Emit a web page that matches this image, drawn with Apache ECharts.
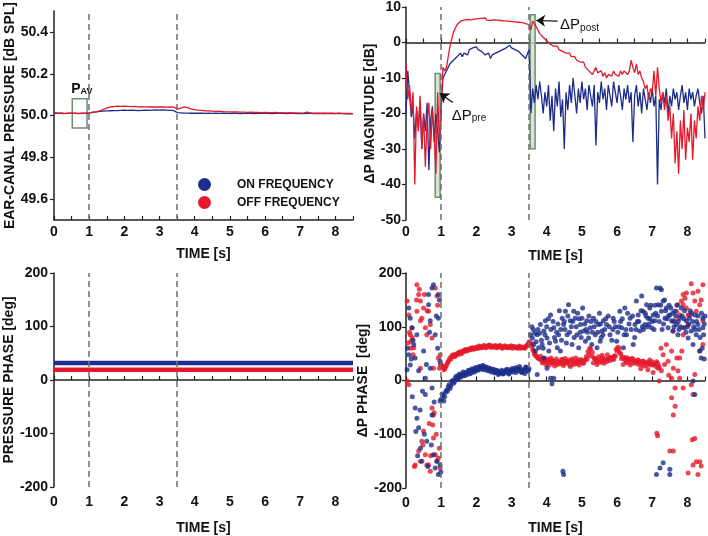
<!DOCTYPE html>
<html><head><meta charset="utf-8">
<script src="https://cdn.jsdelivr.net/npm/echarts@6/dist/echarts.min.js"></script>
<style>html,body{margin:0;padding:0;background:#fff}#c{width:708px;height:536px}</style>
</head><body><div id="c"></div>
<script>
// ---------- DATA ----------
const seriesNames = ['ON FREQUENCY', 'OFF FREQUENCY'];
const stimulusEdges = [1, 3.5];          // dashed lines [s]
const xTickLabels = [0,1,2,3,4,5,6,7,8];
const pressureTicks = [49.6, 49.8, 50.0, 50.2, 50.4];

// Ear-canal pressure [dB SPL], sampled every 0.1 s from 0 to 8.5 s
const PRESS_DT = 0.1;
const pressureOn = [
 50.012,50.010,50.011,50.009,50.010,50.011,50.010,50.009,50.010,50.011,
 50.012,50.015,50.018,50.020,50.021,50.022,50.023,50.024,50.024,50.025,
 50.026,50.025,50.026,50.025,50.024,50.025,50.026,50.025,50.026,50.027,
 50.026,50.027,50.026,50.025,50.024,50.014,50.013,50.012,50.012,50.011,
 50.011,50.012,50.011,50.010,50.011,50.010,50.011,50.010,50.011,50.010,
 50.010,50.011,50.010,50.009,50.010,50.011,50.010,50.009,50.010,50.010,
 50.011,50.010,50.009,50.010,50.011,50.010,50.009,50.010,50.010,50.009,
 50.010,50.009,50.010,50.011,50.009,50.010,50.009,50.010,50.009,50.010,
 50.009,50.010,50.009,50.008,50.009,50.008];
const pressureOff = [
 50.015,50.012,50.011,50.010,50.011,50.010,50.011,50.010,50.011,50.010,
 50.012,50.016,50.018,50.022,50.030,50.036,50.041,50.043,50.045,50.044,
 50.045,50.044,50.043,50.044,50.042,50.043,50.042,50.041,50.042,50.041,
 50.042,50.041,50.040,50.041,50.040,50.032,50.035,50.042,50.038,50.032,
 50.028,50.026,50.025,50.023,50.022,50.021,50.020,50.020,50.019,50.018,
 50.018,50.017,50.017,50.016,50.016,50.015,50.016,50.015,50.015,50.014,
 50.015,50.014,50.014,50.015,50.013,50.014,50.013,50.014,50.013,50.013,
 50.012,50.013,50.016,50.012,50.012,50.011,50.012,50.011,50.011,50.011,
 50.010,50.011,50.010,50.010,50.010,50.009];

// ΔP magnitude [dB], sampled every 0.05 s from 0 to 8.5 s
const MAG_DT = 0.05;
const magnitudeOn = [
 -20,-8,-14,-21,-18,-27,-19,-24,-17,-30,-20,-25,-17,-36,-22,-18,-28,-20,-25,-31,
 -18,-10,-9,-8,-7,-6,-6.5,-5,-5.5,-4,-4.5,-3,-4,-3,-2.5,-3.5,-2,-2.5,-1.5,-2,
 -1.2,-2,-1.5,-2.5,-2,-3.5,-4,-3,-4.5,-3.5,-4,-3,-3.5,-2.5,-3,-2,-2.5,-1.5,-2,-0.8,
 -1.5,-1,-2,-1.5,-2.5,-2,-3.5,-3,-4.5,-5,-2,-20,-13,-17,-12,-16,-11,-15,-20,-14,
 -18,-12,-22,-15,-25,-13,-18,-11,-21,-16,-30,-14,-19,-12,-17,-10,-15,-20,-13,-17,
 -11,-16,-13,-19,-12,-15,-18,-12,-29,-14,-17,-11,-16,-13,-19,-12,-15,-18,-11,-14,
 -17,-12,-15,-19,-13,-16,-12,-17,-14,-28,-15,-12,-18,-14,-20,-13,-16,-19,-14,-17,
 -13,-18,-15,-40,-16,-19,-14,-17,-13,-20,-15,-18,-13,-16,-14,-19,-15,-12,-17,-14,
 -19,-13,-16,-14,-18,-15,-13,-17,-20,-15,-27];
const magnitudeOff = [
 -6,-16,-12,-20,-14,-40,-18,-25,-15,-30,-20,-35,-22,-17,-30,-19,-26,-37,-14,-28,
 -20,-7,-8,-7,-4,-1,1,3,4,5,5.5,6,6.5,6.3,6.8,6.5,6.7,6.4,6.8,6.6,
 6.5,6.7,6.4,6.8,6.5,6.9,6.3,6.6,6.2,6.5,6.4,6.1,6.3,6.0,6.2,5.9,6.1,5.8,6.0,5.7,
 5.9,5.6,5.8,5.5,5.7,5.4,5.6,5.8,5.3,5.5,5,3.5,6,5.5,4.5,4,2.5,3,1.5,1,
 0.5,0,-0.5,0,-1,-1.5,-1,-2,-1.5,-2.5,-2,-3,-3.5,-3,-4,-4.5,-4,-5,-4.5,-5.5,
 -6,-5.5,-7,-6.5,-8,-7.5,-9,-8,-7,-8.5,-9,-8,-9.5,-8.5,-10,-9,-8.5,-9.5,-8,-9,
 -8.5,-9.5,-8,-9,-8,-7.5,-9,-8,-5,-7,-8.5,-6,-9,-8,-10,-11,-13,-12,-16,-13,
 -14,-8,-15,-7,-13,-17,-14,-19,-15,-22,-18,-27,-20,-34,-25,-37,-22,-30,-19,-33,
 -24,-28,-20,-33,-22,-27,-18,-22,-15,-19,-14];

// Pressure phase [deg] (constant)
const pressurePhaseT = [0, 8.5];
const pressurePhaseOn = [32, 32];
const pressurePhaseOff = [19, 19];

// ΔP phase [deg]
// scattered points before stimulus onset: [t, deg]
const phaseOnPre = [
 [0.08,135],[0.12,116],[0.17,98],[0.08,48],[0.12,29],[0.22,67],[0.26,42],[0.31,85],[0.36,18],
 [0.26,-51],[0.31,-70],[0.36,-88],[0.41,-126],[0.45,-150],[0.5,55],[0.55,4],[0.55,-26],
 [0.59,-113],[0.64,141],[0.64,160],[0.69,111],[0.74,172],[0.69,23],[0.74,-14],[0.74,-64],
 [0.78,178],[0.83,85],[0.78,-138],[0.83,-163],[0.92,160],[0.92,116],[0.92,-175],[0.97,-157],
 [0.97,-38],[0.97,36],[0.04,60],[0.15,40],[0.2,75],[0.28,-95],[0.33,-140],[0.4,-55],
 [0.47,-20],[0.52,-100],[0.58,30],[0.62,-160],[0.67,90],[0.72,-120],[0.8,-40],[0.86,120],
 [0.88,-150],[0.9,60],[0.95,150],[0.99,-170],[0.03,20],[0.18,-30]];
const phaseOffPre = [
 [0.03,148],[0.08,122],[0.03,-1],[0.08,-8],[0.12,85],[0.17,98],[0.14,73],[0.22,61],[0.2,48],
 [0.26,-157],[0.31,178],[0.36,160],[0.31,129],[0.41,148],[0.45,116],[0.41,111],[0.5,135],
 [0.36,-131],[0.41,-150],[0.45,-113],[0.5,-94],[0.55,-138],[0.59,-157],[0.55,98],[0.59,85],
 [0.64,129],[0.69,104],[0.74,79],[0.64,-157],[0.69,-169],[0.74,-51],[0.78,-64],[0.76,-83],
 [0.78,-107],[0.83,-138],[0.88,-150],[0.83,172],[0.88,157],[0.92,-144],[0.97,-163],
 [0.95,-126],[0.92,42],[0.97,48],[0.95,23],[0.78,23],[0.41,23],[0.06,70],[0.1,90],[0.14,60],
 [0.18,80],[0.24,-160],[0.3,150],[0.38,170],[0.48,-120],[0.52,160],[0.6,130],[0.66,-80],
 [0.7,-140],[0.8,-60],[0.86,-100],[0.9,140],[0.98,30]];

// banded phase during stimulus, every 0.05 s (A from 1.000 s, B from 1.025 s)
const BAND_T0 = 1.0, BAND_DT = 0.05;
const phaseOnBandA = [
 -35,-28,-30,-18,-12,-15,-2,-5,4,2, 10,6,12,9,15,11,18,14,20,16,
 22,19,25,21,27,22,24,19,22,17, 20,15,18,13,17,12,16,20,14,18,
 22,16,20,24,18,22,15,20,25,17, 22];
const phaseOnBandB = [
 -25,-38,-22,-20,-8,-10,0,-3,8,5, 12,8,16,10,14,19,13,22,18,24,
 20,26,23,28,20,25,18,23,16,21, 14,19,11,15,19,13,17,21,12,16,
 19,23,15,21,26,16,19,13,24,18];
const phaseOffBandA = [
 30,25,22,28,35,42,45,48,46,50, 52,51,55,54,57,56,59,58,60,59,
 62,60,63,61,64,62,63,65,62,64, 63,65,62,64,63,61,64,62,63,61,
 64,62,63,61,63,60,62,61,63,66, 72];
const phaseOffBandB = [
 27,20,25,32,38,40,47,44,49,48, 53,50,54,57,55,58,57,61,58,61,
 60,64,61,63,65,61,64,66,63,62, 64,61,63,65,60,63,64,61,62,64,
 60,63,62,60,64,61,62,60,64,68];

// OFF-frequency phase after stimulus offset, every 0.05 s (A from 3.55 s, B from 3.575 s)
const POST_T0 = 3.55, POST_DT = 0.05;
const phaseOffPostA = [
 70,58,50,46,42,40,38,36,39,34, 37,33,38,32,36,30,35,33,38,31,
 36,34,29,37,33,35,31,38,34,36, 32,38,40,48,58,52,42,38,35,40,
 36,42,38,35,40,37,43,39,45,55, 60,50,44,40,36,42,38,34,40,36,
 32,38,35,30,36,33,28,34,31,35, 30,26,32,24];
const phaseOffPostB = [
 64,55,47,44,41,45,33,41,30,40, 29,42,35,27,40,34,31,39,28,41,
 33,38,26,40,30,42,35,29,39,33, 37,44,54,60,45,33,41,30,44,34,
 47,32,39,48,41,43,40,46,58,62, 52,41,30,43,33,39,29,41,32,36,
 37,30,22,36,27,33,20,38,29,15, 31,35,28];
// OFF-frequency scattered points at the end: [t, deg]
const phaseOffLate = [
 [7.13,-98],[7.15,-103],[7.5,-131],[7.6,-131],[7.6,-64],[7.65,-48],[7.55,-32],[7.65,-14],
 [7.55,4],[7.6,23],[7.7,42],[7.84,55],[7.88,85],[7.88,160],[7.93,153],[7.97,135],[8.02,122],
 [7.93,98],[8.11,180],[8.16,163],[8.21,148],[8.25,129],[8.3,166],[8.35,141],[8.44,178],
 [8.39,150],[8.44,111],[8.14,-110],[8.21,-108],[8.16,-157],[8.25,-151],[8.35,-151],
 [8.39,-159],[8.3,-175],[8.02,-172],[8.16,-26],[8.21,11],[8.11,-8],[8.35,55],[8.44,67],
 [7.78,42],[7.73,18],[7.78,4],[7.88,-14],[7.2,-1],[7.26,18],[7.17,23],[7.31,48],[7.45,36],
 [7.4,67],[7.55,55],[7.59,92],[7.64,111],[7.69,129],[7.73,141],[7.88,141],[7.83,148],
 [7.78,122],[7.97,163],[8.02,104],[8.06,122],[7.25,60],[7.35,30],[7.47,10]];
// ON-frequency scattered points after stimulus offset: [t, deg]
const phaseOnPost = [
 [3.54,85],[3.59,79],[3.63,67],[3.68,55],[3.73,85],[3.77,61],[3.82,104],[3.87,67],[3.92,92],
 [3.92,42],[3.96,111],[4.01,79],[4.06,55],[3.73,11],[4.01,23],[4.11,4],[4.15,-6],[4.2,4],
 [4.11,122],[4.2,98],[4.25,73],[4.3,61],[4.34,85],[4.39,55],[4.44,116],[4.48,104],[4.53,129],
 [4.48,-175],[4.46,-169],[4.58,85],[4.62,141],[4.67,111],[4.72,67],[4.77,129],[4.81,116],
 [4.86,85],[4.91,61],[4.96,104],[5.0,116],[5.05,92],[5.1,73],[5.14,111],[5.19,79],[5.24,98],
 [5.28,67],[5.33,116],[5.38,85],[5.43,61],[5.47,104],[5.52,73],[5.57,92],[5.61,111],
 [5.7,104],[5.8,85],[5.89,116],[5.99,73],[6.08,129],[6.13,98],[6.18,61],[6.22,135],[6.27,85],
 [6.37,116],[6.46,67],[6.51,104],[6.55,148],[6.6,122],[6.65,92],[6.7,157],[6.74,129],
 [6.79,104],[6.84,141],[6.88,116],[6.93,135],[6.98,98],[7.03,122],[7.07,111],[7.12,172],
 [7.22,172],[7.26,169],[7.17,141],[7.26,129],[7.31,148],[7.36,116],[7.4,135],[7.45,98],
 [7.5,122],[7.55,111],[7.59,92],[7.64,129],[7.69,104],[7.73,85],[7.78,116],[7.83,135],
 [7.88,98],[7.97,111],[8.02,79],[8.06,116],[8.11,92],[8.16,67],[8.21,122],[8.25,85],[8.3,104],
 [8.35,55],[8.39,42],[8.44,98],[8.44,116],[8.16,-1],[8.21,-26],[7.12,-175],[7.22,-163],
 [7.31,-153],[7.5,-165],[7.5,-175],
 [3.62,95],[3.7,72],[3.8,88],[3.9,60],[4.0,100],[4.08,70],[4.18,110],[4.28,90],[4.36,130],
 [4.42,75],[4.52,95],[4.6,120],[4.7,100],[4.78,80],[4.88,125],[4.95,90],[5.02,135],[5.12,95],
 [5.2,120],[5.3,90],[5.4,110],[5.5,125],[5.55,80],[5.65,95],[5.75,120],[5.85,75],[5.95,100],
 [6.02,90],[6.1,110],[6.2,85],[6.3,125],[6.4,95],[6.5,80],[6.58,110],[6.68,130],[6.75,95],
 [6.82,120],[6.9,105],[6.96,140],[7.05,95],[7.1,125],[7.2,110],[7.28,95],[7.35,150],
 [7.42,115],[7.48,140],[7.58,125],[7.62,100],[7.7,140],[7.76,95],[7.85,120],[7.92,130],
 [8.0,100],[8.08,130],[8.15,110],[8.22,95],[8.3,120],[8.36,80],[8.42,60],[8.48,105],
 [3.58,100],[3.66,88],[3.75,95],[3.85,75],[3.95,85],[4.05,115],[4.12,95],[4.22,80],[4.32,105],
 [4.4,95],[4.5,110],[4.56,70],[4.65,90],[4.74,110],[4.84,100],[4.92,115],[4.98,80],[5.08,105],
 [5.16,90],[5.26,110],[5.35,100],[5.45,90],[5.53,105],[5.6,85],[5.68,115],[5.78,100],[5.88,95],
 [5.92,110],[6.05,100],[6.15,115],[6.25,95],[6.34,105],[6.44,120],[6.54,95],[6.62,110],
 [6.72,100],[6.8,125],[6.86,100],[6.94,115],[7.0,110],[7.08,140],[7.15,120],[7.24,140],
 [7.32,105],[7.38,130],[7.46,120],[7.53,135],[7.6,110],[7.67,120],[7.74,110],[7.8,100],
 [7.9,115],[7.96,90],[8.04,105],[8.12,125],[8.18,100],[8.26,110],[8.33,95],[8.4,125],
 [8.46,85],[8.5,120],[8.48,40]];

// ---------- CHART ----------
const BLUE = '#1d2d8a', RED = '#e5192b';
const FONT = "'Liberation Sans', Arial, sans-serif";
const series = (arr, t0, dt) => arr.map((v, i) => [+(t0 + i * dt).toFixed(4), v]);

const grids = [
  {left: 54, top: 5, width: 299, height: 215},
  {left: 406, top: 5, width: 301, height: 215},
  {left: 54, top: 273, width: 299, height: 215},
  {left: 406, top: 273, width: 301, height: 215}
];
const axisLine = {show: true, lineStyle: {color: '#222', width: 1.5}};
const xNameGaps = [27, 29, 34, 33];
const xAxes = grids.map((g, i) => ({
  type: 'value', gridIndex: i, min: 0, max: 8.5, interval: 0.5,
  name: 'TIME [s]', nameLocation: 'middle', nameGap: xNameGaps[i],
  nameTextStyle: {fontFamily: FONT, fontWeight: 'bold', fontSize: 14, color: '#111'},
  axisLine, splitLine: {show: false},
  axisTick: {show: true, inside: true, length: 4, lineStyle: {color: '#222', width: 1.2}},
  axisLabel: {fontFamily: FONT, fontWeight: 'bold', fontSize: 14, color: '#111',
    margin: i < 2 ? 5 : 8,
    formatter: v => xTickLabels.includes(v) ? String(v) : ''}
}));
const yCommon = (i, extra) => Object.assign({
  type: 'value', gridIndex: i, nameLocation: 'middle',
  nameTextStyle: {fontFamily: FONT, fontWeight: 'bold', fontSize: 14, color: '#111'},
  axisLine, splitLine: {show: false},
  axisTick: {show: true, inside: false, length: 4, lineStyle: {color: '#222', width: 1.2}},
  axisLabel: {fontFamily: FONT, fontWeight: 'bold', fontSize: 14, color: '#111', margin: 6}
}, extra);
const yAxes = [
  yCommon(0, {min: 49.5, max: 50.5, name: 'EAR-CANAL PRESSURE [dB SPL]', nameGap: 37,
    axisTick: {show: true, length: 4, customValues: pressureTicks, lineStyle: {color: '#222', width: 1.2}},
    axisLabel: {fontFamily: FONT, fontWeight: 'bold', fontSize: 14, color: '#111', margin: 6,
      customValues: pressureTicks, formatter: v => v.toFixed(1)}}),
  yCommon(1, {min: -50, max: 10, interval: 10, name: 'ΔP MAGNITUDE [dB]', nameGap: 28}),
  yCommon(2, {min: -200, max: 200, interval: 100, name: 'PRESSURE PHASE [deg]', nameGap: 37}),
  yCommon(3, {min: -200, max: 200, interval: 100, name: 'ΔP PHASE  [deg]', nameGap: 30})
];
yAxes[1].axisLabel.margin = 5;
yAxes[3].axisLabel.margin = 4;

const dashed = {
  silent: true, symbol: ['none', 'none'], label: {show: false},
  lineStyle: {type: [6, 4], color: '#6e6e6e', width: 1.5},
  data: stimulusEdges.map(x => ({xAxis: x}))
};
const boxStyle = {borderColor: '#6d8f72', borderWidth: 1.5};
const arrowLine = (from, to) => [{coord: from, lineStyle: {type: 'solid', color: '#111', width: 1.2}}, {coord: to}];

const pavRich = {
  a: {fontFamily: FONT, fontWeight: 'bold', fontSize: 14, color: '#111', lineHeight: 16, verticalAlign: 'bottom'},
  b: {fontFamily: FONT, fontWeight: 'bold', fontSize: 9, color: '#111', lineHeight: 6, verticalAlign: 'bottom'}
};
const dpRich = {
  a: {fontFamily: FONT, fontSize: 15, color: '#111', lineHeight: 16, verticalAlign: 'bottom'},
  b: {fontFamily: FONT, fontSize: 10, color: '#111', lineHeight: 6, verticalAlign: 'bottom'}
};
const textPoint = (coord, text, rich) => ({
  coord, symbolSize: 0, value: 0,
  label: {show: true, position: [0, 0], align: 'left', verticalAlign: 'middle', formatter: text, rich}
});

const option = {
  animation: false,
  backgroundColor: '#fff',
  textStyle: {fontFamily: FONT},
  grid: grids,
  xAxis: xAxes,
  yAxis: yAxes,
  legend: {
    data: seriesNames, orient: 'vertical', left: 193, top: 173, itemGap: 5,
    icon: 'circle', itemWidth: 13, itemHeight: 13, selectedMode: false,
    textStyle: {fontFamily: FONT, fontWeight: 'bold', fontSize: 12, color: '#111', padding: [0, 0, 0, 21]}
  },
  series: [
    {name: seriesNames[0], type: 'line', xAxisIndex: 0, yAxisIndex: 0, showSymbol: false,
     color: BLUE, lineStyle: {width: 1.3}, data: series(pressureOn, 0, PRESS_DT),
     markLine: dashed,
     markArea: {silent: true, itemStyle: Object.assign({color: 'rgba(0,0,0,0)'}, boxStyle),
       data: [[{coord: [0.52, 50.08]}, {coord: [0.94, 49.94]}]]},
     markPoint: {silent: true, data: [textPoint([0.49, 50.133], '{a|P}{b|AV}', pavRich)]}},
    {name: seriesNames[1], type: 'line', xAxisIndex: 0, yAxisIndex: 0, showSymbol: false,
     color: RED, lineStyle: {width: 1.3}, data: series(pressureOff, 0, PRESS_DT)},

    {name: seriesNames[0], type: 'line', xAxisIndex: 1, yAxisIndex: 1, showSymbol: false,
     color: BLUE, lineStyle: {width: 1.3}, data: series(magnitudeOn, 0, MAG_DT),
     markLine: dashed,
     markPoint: {silent: true, data: [
       textPoint([1.30, -20.6], '{a|ΔP}{b|pre}', dpRich),
       textPoint([4.38, 5.0], '{a|ΔP}{b|post}', dpRich)]}},
    {name: seriesNames[1], type: 'line', xAxisIndex: 1, yAxisIndex: 1, showSymbol: false,
     color: RED, lineStyle: {width: 1.3}, data: series(magnitudeOff, 0, MAG_DT),
     markArea: {silent: true, z: 3,
       itemStyle: Object.assign({color: 'rgba(206,222,200,0.8)'}, boxStyle),
       data: [[{coord: [0.83, -8.7]}, {coord: [0.97, -43.6]}],
              [{coord: [3.53, 7.8]}, {coord: [3.67, -29.9]}]]},
     markLine: {silent: true, symbol: ['none', 'arrow'], symbolSize: 9, label: {show: false}, z: 6,
       data: [arrowLine([1.33, -16.9], [0.96, -14.3]), arrowLine([4.31, 6.0], [3.70, 6.2])]}},

    {name: seriesNames[0], type: 'line', xAxisIndex: 2, yAxisIndex: 2, showSymbol: false,
     color: BLUE, lineStyle: {width: 4.5}, data: pressurePhaseT.map((t, i) => [t, pressurePhaseOn[i]]),
     markLine: dashed},
    {name: seriesNames[1], type: 'line', xAxisIndex: 2, yAxisIndex: 2, showSymbol: false,
     color: RED, lineStyle: {width: 4.5}, data: pressurePhaseT.map((t, i) => [t, pressurePhaseOff[i]])},

    {name: seriesNames[1], type: 'scatter', xAxisIndex: 3, yAxisIndex: 3, symbolSize: 5,
     color: RED,
     data: [].concat(phaseOffPre,
       series(phaseOffBandA, BAND_T0, BAND_DT), series(phaseOffBandB, BAND_T0 + BAND_DT / 2, BAND_DT),
       series(phaseOffPostA, POST_T0, POST_DT), series(phaseOffPostB, POST_T0 + POST_DT / 2, POST_DT),
       phaseOffLate),
     markLine: dashed},
    {name: seriesNames[0], type: 'scatter', xAxisIndex: 3, yAxisIndex: 3, symbolSize: 5,
     color: BLUE,
     data: [].concat(phaseOnPre,
       series(phaseOnBandA, BAND_T0, BAND_DT), series(phaseOnBandB, BAND_T0 + BAND_DT / 2, BAND_DT),
       phaseOnPost)}
  ]
};
const chart = echarts.init(document.getElementById('c'), null, {renderer: 'canvas'});
chart.setOption(option);
</script></body></html>
